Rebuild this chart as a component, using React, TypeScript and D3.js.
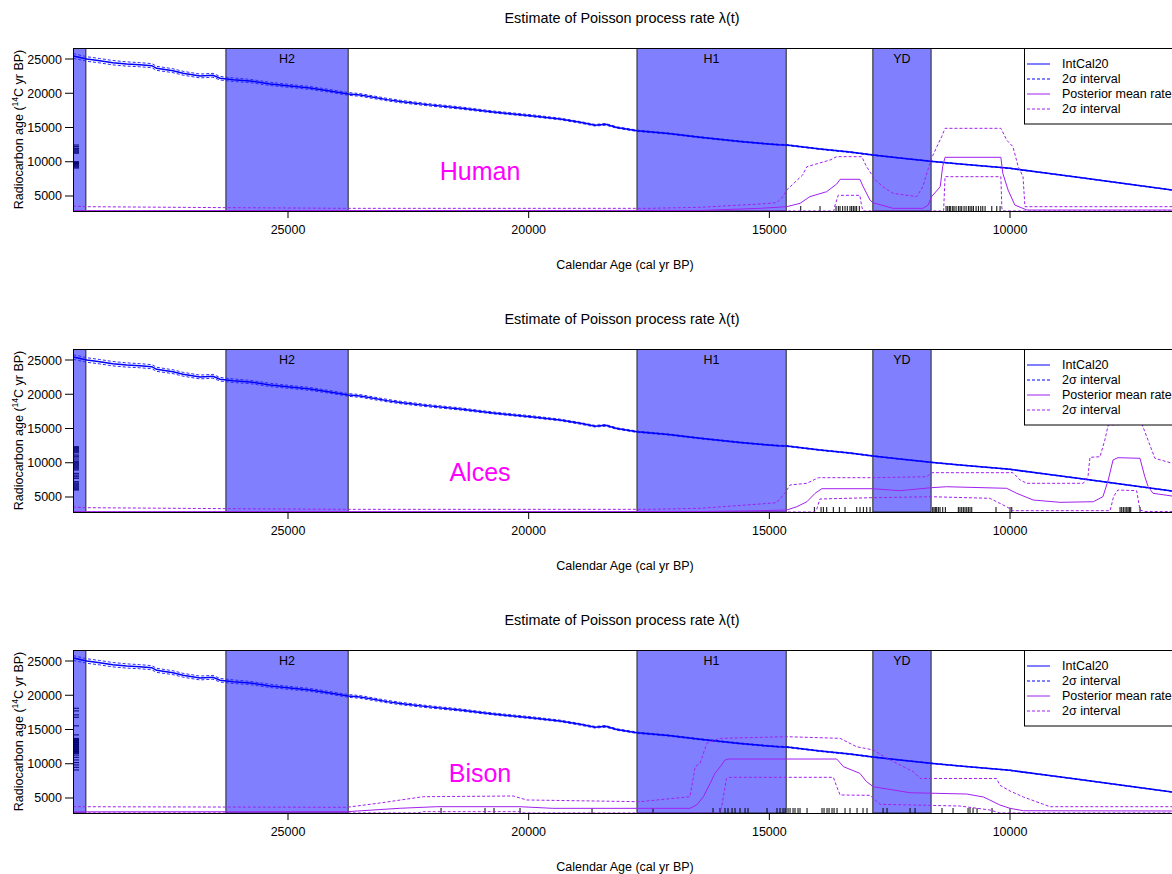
import React from "react";
import * as d3 from "d3";

type P = [number, number];

const W = 1172;
const H = 874;
const PANEL_STEP = 301;
const FONT = "'Liberation Sans', Arial, Helvetica, sans-serif";
const PURPLE = "#a020f0";
const BLUE = "#0000ff";

const xDomain: P = [29467, 6261];
const yDomain: P = [2810, 26606];
const xTicks = [25000, 20000, 15000, 10000];
const yTicks = [5000, 10000, 15000, 20000, 25000];

const bandNames = ["", "H2", "H1", "YD"];
const bandStarts = [29700, 26290, 17750, 12850];
const bandEnds = [29200, 23750, 14650, 11640];

const panelLabels = ["Human", "Alces", "Bison"];
const legendLabels = ["IntCal20", "2σ interval", "Posterior mean rate", "2σ interval"];

// IntCal20: [cal BP, 14C BP, 1 sigma]
const intcal: [number, number, number][] = [
  [29460, 25440, 170], [29180, 25000, 165], [28910, 24750, 160], [28640, 24460, 160],
  [28350, 24270, 155], [28080, 24170, 150], [27830, 24020, 150], [27730, 23640, 150],
  [27390, 23290, 140], [27180, 22920, 140], [26830, 22520, 140], [26560, 22620, 140],
  [26410, 22190, 130], [26140, 21980, 130], [25790, 21790, 120], [25370, 21360, 120],
  [24960, 21060, 110], [24540, 20770, 110], [24130, 20340, 100], [23750, 19900, 100],
  [23500, 19750, 100], [22940, 19070, 90], [22670, 18800, 90], [22110, 18340, 80],
  [21430, 17860, 80], [20740, 17270, 70], [19910, 16690, 70], [19350, 16250, 60],
  [18930, 15750, 60], [18620, 15330, 60], [18400, 15460, 60], [18170, 15000, 55],
  [17750, 14530, 50], [17100, 14130, 45], [16440, 13570, 45], [15610, 12960, 40], [15190, 12690, 40],
  [14810, 12490, 35], [14640, 12440, 35], [13950, 11860, 30], [13330, 11420, 30],
  [12850, 10990, 30], [12290, 10550, 25], [11600, 10040, 25], [11040, 9670, 20],
  [10000, 9040, 20], [9380, 8460, 20], [8550, 7690, 18], [7710, 6900, 18],
  [6630, 5870, 15], [6260, 5600, 15],
];

// Posterior rate curves, drawn on the radiocarbon axis
const humanMean: P[] = [[29470,2860],[16400,2900],[15190,3200],[14640,3440],[14360,3930],[14160,4900],[13810,5630],[13600,6750],[13530,7440],[13120,7440],[13050,6360],[12910,4410],[12850,4020],[12430,3200],[11810,3200],[11700,3680],[11630,4900],[11450,6360],[11400,9280],[11350,10650],[10190,10650],[10150,8310],[10040,5870],[9900,3680],[9650,2950],[6260,2950]];
const humanUpper: P[] = [[29470,3540],[29200,3440],[26300,3300],[23750,3200],[17500,3200],[16440,3350],[15190,3830],[14850,4020],[14720,4900],[14640,5870],[14310,8060],[14220,9280],[13740,10250],[13600,10740],[13080,10740],[12980,9280],[12800,7330],[12640,6360],[12430,5390],[11940,4900],[11810,6360],[11730,8310],[11630,10500],[11520,12200],[11420,13660],[11350,14880],[10190,14880],[10070,13170],[9940,12200],[9830,9280],[9730,7820],[9690,3440],[6260,3440]];
const humanLower: P[] = [[29470,2820],[13660,2820],[13640,3540],[13570,5100],[13120,5100],[13080,3440],[13050,2820],[11380,2820],[11350,7820],[10190,7820],[10170,3250],[10150,2820],[6260,2820]];

const alcesMean: P[] = [[29470,2860],[16400,2880],[15190,3000],[14640,3100],[14430,3580],[14220,4310],[14050,5540],[13910,6210],[12850,6210],[12290,5920],[11630,6360],[11320,6500],[10070,6270],[9860,5540],[9520,4560],[8960,4220],[8270,4310],[8070,5040],[7960,7480],[7860,10400],[7760,10740],[7300,10650],[7200,7960],[7130,6500],[7030,5540],[6630,5140]];
const alcesUpper: P[] = [[29470,3540],[29200,3440],[26300,3300],[23750,3200],[17500,3200],[16440,3350],[15190,3980],[14850,4170],[14680,5540],[14570,6750],[14220,7000],[13980,7820],[12850,7820],[11730,7960],[11630,8550],[9940,8550],[9790,7480],[9650,7000],[8480,7000],[8380,7960],[8340,10790],[8130,10880],[8030,13320],[7960,15510],[7260,15660],[7160,13800],[6990,10650],[6630,9920]];
const alcesLower: P[] = [[29470,2820],[14070,2820],[14020,3100],[13950,4710],[12850,4900],[11630,5040],[10420,4810],[10070,3580],[9940,3000],[7920,3000],[7850,5040],[7760,6020],[7370,5920],[7300,3100],[7200,2880],[6630,2880]];

const bisonMean: P[] = [[29470,2980],[23780,3000],[22670,3500],[21910,3730],[20180,3730],[19500,3490],[16650,3490],[16510,3980],[16370,5190],[16230,7140],[16130,8600],[16020,9570],[15920,10550],[15850,10690],[13600,10690],[13460,9570],[13120,8600],[12980,7380],[12840,6650],[12080,5770],[10900,5580],[10550,5140],[10420,4710],[10210,3980],[10000,3490],[9720,3140],[6630,3100]];
const bisonUpper: P[] = [[29470,3730],[23780,3640],[23090,4270],[22190,5190],[20320,5290],[20040,4710],[17690,4460],[16650,5190],[16540,9570],[16440,10060],[16300,12980],[16130,13470],[16020,13710],[14640,13950],[13530,13710],[13190,12490],[12840,12010],[12560,10790],[12010,8840],[11870,7850],[10280,7850],[10210,6860],[10000,6020],[9720,5140],[9380,4270],[9170,3730],[6630,3730]];
const bisonLower: P[] = [[29470,2820],[22300,2820],[22190,3000],[20180,3000],[20100,2820],[16030,2820],[15990,3730],[15890,7870],[15820,8020],[13670,8020],[13600,6650],[13530,5440],[12910,5390],[12700,4080],[11040,3830],[10420,3250],[10210,2820],[6630,2820]];

// calibrated sample positions (bottom rug, cal BP)
const humanRug = [14348,13947,13615,13567,13532,13477,13428,13381,13325,13290,13256,13221,13186,13131,11329,11294,11261,11232,11190,11163,11121,11073,11038,11003,10955,10913,10865,10830,10794,10761,10705,10657,10607,10566,10518,10379,10275,10207];
const alcesRug = [14065,13926,13878,13808,13671,13546,13428,13185,13116,13047,12977,12908,11606,11579,11552,11523,11489,11454,11398,11344,11074,11039,11003,10970,10935,10899,10866,10831,10795,10291,10000,9964,7714,7679,7646,7610,7575,7548,7521,7492,7299];
const bisonRug = [21821,20907,20720,20180,18684,17417,16170,16025,15921,15859,15775,15713,15609,15505,15443,15048,14841,14778,14716,14674,14612,14570,14508,14467,14404,14363,14217,13906,13864,13802,13760,13698,13656,13594,13428,13324,13178,13054,12971,12638,12555,12077,11973,11413,11184,10872,10831,10768,10685,10374,10000];

// radiocarbon determinations (left rug, 14C BP)
const humanRug14C = [12440,12200,11970,11850,11700,11550,11400,11250,10010,9880,9750,9620,9480,9350,9220,9080];
const alcesRug14C = [12340,12200,12050,11900,11750,11600,11450,11130,10950,10700,10400,10150,10000,9850,9700,9550,9400,9250,9100,8940,8460,8200,7950,7730,7230,7050,6900,6750,6600,6450,6300,6150,6020];
const bisonRug14C = [18100,17710,17130,16790,15530,14210,13700,13600,13500,13400,13300,13200,13100,13000,12900,12800,12700,12600,12500,12400,12300,12200,12100,12000,11900,11800,11700,11600,11520,11270,10940,10550,10160,9820,9480,9090];

const panels = [
  { label: panelLabels[0], mean: humanMean, upper: humanUpper, lower: humanLower, rug: humanRug, rug14: humanRug14C },
  { label: panelLabels[1], mean: alcesMean, upper: alcesUpper, lower: alcesLower, rug: alcesRug, rug14: alcesRug14C },
  { label: panelLabels[2], mean: bisonMean, upper: bisonUpper, lower: bisonLower, rug: bisonRug, rug14: bisonRug14C },
];

const L = 73, R = 1190, T = 48, B = 211;

function Panel({ idx, p }: { idx: number; p: typeof panels[number] }) {
  const x = d3.scaleLinear().domain(xDomain).range([L, R]);
  const y = d3.scaleLinear().domain(yDomain).range([B, T]);
  const line = d3.line<P>().x((d) => x(d[0])).y((d) => y(d[1]));
  const icMid = intcal.map((d) => [d[0], d[1]] as P);
  const icUp = intcal.map((d) => [d[0], d[1] + 2 * d[2]] as P);
  const icLo = intcal.map((d) => [d[0], d[1] - 2 * d[2]] as P);
  const clipId = `clip${idx}`;
  const legendY = [64, 79, 94, 109];
  return (
    <g transform={`translate(0,${idx * PANEL_STEP})`}>
      <defs>
        <clipPath id={clipId}>
          <rect x={L} y={T} width={R - L} height={B - T} />
        </clipPath>
      </defs>
      <text x={622} y={22.7} textAnchor="middle" fontSize={14.4} fontFamily={FONT} fill="#000">
        Estimate of Poisson process rate λ(t)
      </text>
      <g clipPath={`url(#${clipId})`}>
        {bandStarts.map((s, i) => (
          <rect key={i} x={x(s)} y={T} width={x(bandEnds[i]) - x(s)} height={B - T}
            fill="#8080ff" stroke="#222" strokeWidth={1} />
        ))}
        {p.rug14.map((c, i) => (
          <line key={"l" + i} x1={L} x2={L + 6} y1={y(c)} y2={y(c)} stroke="#000070" strokeWidth={1} />
        ))}
        {p.rug.map((t, i) => (
          <line key={"r" + i} x1={x(t)} x2={x(t)} y1={B} y2={B - 5} stroke="#000" strokeWidth={1} />
        ))}
        <path d={line(icUp) || ""} fill="none" stroke="#2a2aff" strokeWidth={1} strokeDasharray="3,2" />
        <path d={line(icLo) || ""} fill="none" stroke="#2a2aff" strokeWidth={1} strokeDasharray="3,2" />
        <path d={line(icMid) || ""} fill="none" stroke={BLUE} strokeWidth={1.5} />
        <path d={line(p.upper) || ""} fill="none" stroke={PURPLE} strokeWidth={1} strokeDasharray="3,2" />
        <path d={line(p.lower) || ""} fill="none" stroke={PURPLE} strokeWidth={1} strokeDasharray="3,2" />
        <path d={line(p.mean) || ""} fill="none" stroke={PURPLE} strokeWidth={1} />
      </g>
      {bandStarts.map((s, i) =>
        bandNames[i] ? (
          <text key={"bn" + i} x={(x(s) + x(bandEnds[i])) / 2} y={62.5} textAnchor="middle"
            fontSize={12.5} fontFamily={FONT} fill="#000">{bandNames[i]}</text>
        ) : null
      )}
      <text x={480} y={180} textAnchor="middle" fontSize={25} fontFamily={FONT} fill="#ff00ff">{p.label}</text>
      <rect x={L + 0.5} y={T + 0.5} width={R - L} height={B - T} fill="none" stroke="#000" strokeWidth={1} />
      {xTicks.map((t) => (
        <g key={"xt" + t}>
          <line x1={x(t)} x2={x(t)} y1={B} y2={B + 7} stroke="#000" />
          <text x={x(t)} y={234} textAnchor="middle" fontSize={12.5} fontFamily={FONT} fill="#000">{t}</text>
        </g>
      ))}
      {yTicks.map((t) => (
        <g key={"yt" + t}>
          <line x1={L - 8} x2={L} y1={y(t)} y2={y(t)} stroke="#000" />
          <text x={62} y={y(t) + 4.5} textAnchor="end" fontSize={12.5} fontFamily={FONT} fill="#000">{t}</text>
        </g>
      ))}
      <text transform={`translate(23,${(T + B) / 2}) rotate(-90)`} textAnchor="middle" fontSize={12.5} fontFamily={FONT} fill="#000">
        Radiocarbon age (<tspan fontSize={8.5} dy={-5}>14</tspan><tspan dy={5}>C yr BP)</tspan>
      </text>
      <text x={625} y={269.3} textAnchor="middle" fontSize={12.5} fontFamily={FONT} fill="#000">
        Calendar Age (cal yr BP)
      </text>
      <rect x={1024.5} y={T + 0.5} width={200} height={75.5} fill="#fff" stroke="#000" strokeWidth={1} />
      {legendLabels.map((lab, i) => (
        <g key={"lg" + i}>
          <line x1={1027} x2={1050} y1={legendY[i]} y2={legendY[i]} stroke={i < 2 ? BLUE : PURPLE}
            strokeWidth={1} strokeDasharray={i % 2 === 1 ? "3,2" : undefined} />
          <text x={1062} y={legendY[i] + 4.3} fontSize={12.5} fontFamily={FONT} fill="#000">{lab}</text>
        </g>
      ))}
    </g>
  );
}

export default function App() {
  return (
    <svg width={W} height={H} style={{ position: "absolute", left: 0, top: 0, background: "#fff" }}>
      <rect x={0} y={0} width={W} height={H} fill="#fff" />
      {panels.map((p, i) => (
        <Panel key={i} idx={i} p={p} />
      ))}
    </svg>
  );
}
